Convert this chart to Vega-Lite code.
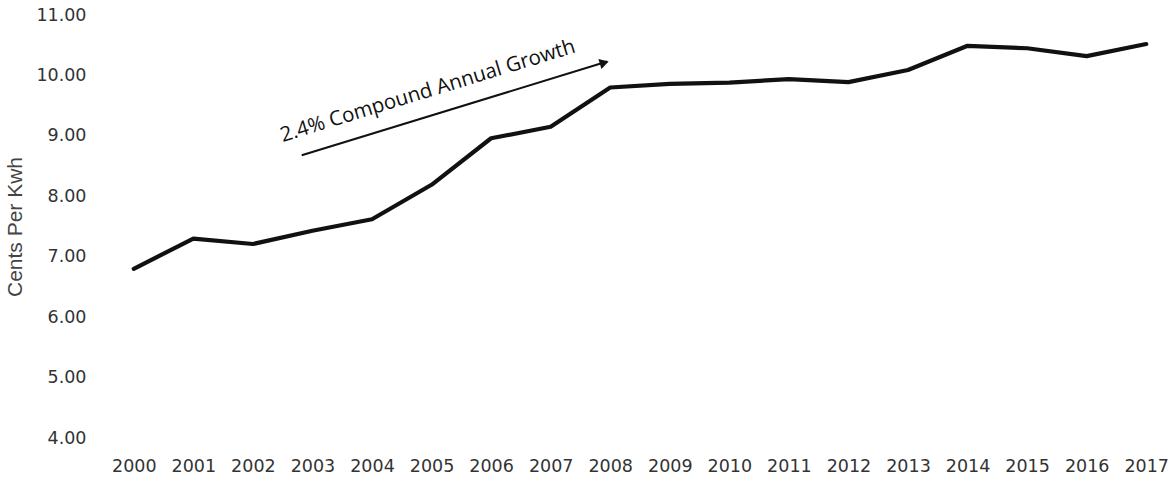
{
  "$schema": "https://vega.github.io/schema/vega-lite/v6.json",
  "autosize": "none",
  "width": 1072,
  "height": 423,
  "padding": {"left": 104, "top": 15, "right": 0, "bottom": 40},
  "background": "white",
  "config": {"view": {"stroke": null}},
  "datasets": {
    "series": [
      {"year": 2000, "cents": 6.80},
      {"year": 2001, "cents": 7.30},
      {"year": 2002, "cents": 7.21},
      {"year": 2003, "cents": 7.43},
      {"year": 2004, "cents": 7.62},
      {"year": 2005, "cents": 8.19},
      {"year": 2006, "cents": 8.96},
      {"year": 2007, "cents": 9.15},
      {"year": 2008, "cents": 9.80},
      {"year": 2009, "cents": 9.86},
      {"year": 2010, "cents": 9.88},
      {"year": 2011, "cents": 9.94},
      {"year": 2012, "cents": 9.89},
      {"year": 2013, "cents": 10.09},
      {"year": 2014, "cents": 10.49},
      {"year": 2015, "cents": 10.45},
      {"year": 2016, "cents": 10.32},
      {"year": 2017, "cents": 10.52}
    ],
    "arrow": [
      {"x1": 2002.82, "y1": 8.68, "x2": 2007.95, "y2": 10.23}
    ],
    "head": [
      {"x": 2007.9, "y": 10.21}
    ],
    "label": [
      {"x": 2002.5, "y": 8.90, "text": "2.4% Compound Annual Growth"}
    ]
  },
  "layer": [
    {
      "data": {"name": "series"},
      "mark": {"type": "line", "color": "#111111", "strokeWidth": 4.2, "strokeJoin": "round", "strokeCap": "round"},
      "encoding": {
        "x": {
          "field": "year", "type": "quantitative",
          "scale": {"domain": [1999.5, 2017.5], "nice": false, "zero": false},
          "axis": {
            "title": null, "values": [2000,2001,2002,2003,2004,2005,2006,2007,2008,2009,2010,2011,2012,2013,2014,2015,2016,2017],
            "format": "d", "grid": false, "domain": false, "ticks": false, "tickSize": 0,
            "labelPadding": 19, "labelFont": "DejaVu Sans", "labelFontSize": 17.5, "labelColor": "#333333",
            "labelFlush": false, "labelOverlap": false, "labelBaseline": "top"
          }
        },
        "y": {
          "field": "cents", "type": "quantitative",
          "scale": {"domain": [4, 11], "nice": false, "zero": false},
          "axis": {
            "title": "Cents Per Kwh", "values": [4,5,6,7,8,9,10,11], "format": ".2f",
            "grid": false, "domain": false, "ticks": false, "tickSize": 0,
            "labelPadding": 18, "labelFont": "DejaVu Sans", "labelFontSize": 17.5, "labelColor": "#333333",
            "labelFlush": false, "labelOverlap": false,
            "titleFont": "Liberation Sans", "titleFontSize": 21, "titleFontWeight": "normal", "titleColor": "#444444",
            "titlePadding": 10
          }
        }
      }
    },
    {
      "data": {"name": "arrow"},
      "mark": {"type": "rule", "color": "#111111", "strokeWidth": 2},
      "encoding": {
        "x": {"field": "x1", "type": "quantitative"},
        "y": {"field": "y1", "type": "quantitative"},
        "x2": {"field": "x2"},
        "y2": {"field": "y2"}
      }
    },
    {
      "data": {"name": "head"},
      "mark": {"type": "point", "shape": "triangle-right", "filled": true, "color": "#111111", "size": 110, "angle": -17, "opacity": 1},
      "encoding": {
        "x": {"field": "x", "type": "quantitative"},
        "y": {"field": "y", "type": "quantitative"}
      }
    },
    {
      "data": {"name": "label"},
      "mark": {"type": "text", "font": "Open Sans", "fontSize": 20.5, "color": "#111111", "align": "left", "baseline": "alphabetic", "angle": -17},
      "encoding": {
        "x": {"field": "x", "type": "quantitative"},
        "y": {"field": "y", "type": "quantitative"},
        "text": {"field": "text"}
      }
    }
  ]
}
